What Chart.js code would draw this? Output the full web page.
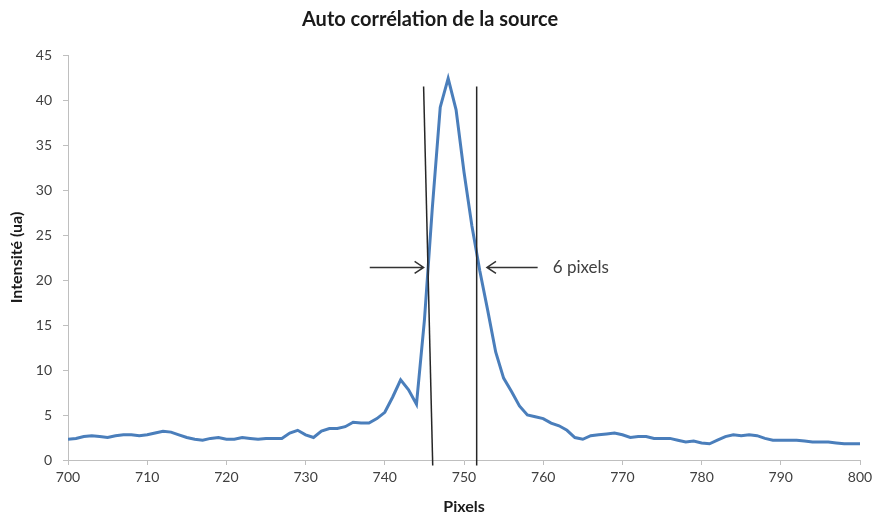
<!DOCTYPE html>
<html>
<head>
<meta charset="utf-8">
<script src="https://cdn.jsdelivr.net/npm/chart.js@4.4.0/dist/chart.umd.min.js"></script>
<style>
  html, body { margin: 0; padding: 0; background: #fff; }
  #wrap { width: 874px; height: 516px; }
</style>
</head>
<body>
<div id="wrap"><canvas id="chart" width="874" height="516"></canvas></div>
<script>
// pixel positions along the detector
const pixels = [
  700, 701, 702, 703, 704, 705, 706, 707, 708, 709,
  710, 711, 712, 713, 714, 715, 716, 717, 718, 719,
  720, 721, 722, 723, 724, 725, 726, 727, 728, 729,
  730, 731, 732, 733, 734, 735, 736, 737, 738, 739,
  740, 741, 742, 743, 744, 745, 746, 747, 748, 749,
  750, 751, 752, 753, 754, 755, 756, 757, 758, 759,
  760, 761, 762, 763, 764, 765, 766, 767, 768, 769,
  770, 771, 772, 773, 774, 775, 776, 777, 778, 779,
  780, 781, 782, 783, 784, 785, 786, 787, 788, 789,
  790, 791, 792, 793, 794, 795, 796, 797, 798, 799,
  800
];

// intensité (ua)
const intensity = [
  2.3, 2.4, 2.6, 2.7, 2.6, 2.5, 2.7, 2.8, 2.8, 2.7,
  2.8, 3.0, 3.2, 3.1, 2.8, 2.5, 2.3, 2.2, 2.4, 2.5,
  2.3, 2.3, 2.5, 2.4, 2.3, 2.4, 2.4, 2.4, 3.0, 3.3,
  2.8, 2.5, 3.2, 3.5, 3.5, 3.7, 4.2, 4.1, 4.1, 4.6,
  5.3, 7.0, 8.9, 7.8, 6.2, 15.5, 28.0, 39.2, 42.4, 38.9,
  32.0, 26.0, 21.0, 16.6, 12.0, 9.1, 7.6, 6.0, 5.0, 4.8,
  4.6, 4.1, 3.8, 3.3, 2.5, 2.3, 2.7, 2.8, 2.9, 3.0,
  2.8, 2.5, 2.6, 2.6, 2.4, 2.4, 2.4, 2.2, 2.0, 2.1,
  1.9, 1.8, 2.2, 2.6, 2.8, 2.7, 2.8, 2.7, 2.4, 2.2,
  2.2, 2.2, 2.2, 2.1, 2.0, 2.0, 2.0, 1.9, 1.8, 1.8,
  1.8
];

// traits verticaux de la largeur à mi-hauteur (unités du graphe)
const leftMarkX = [744.9, 746.05];
const rightMarkX = [751.6, 751.6];
const markY = [41.5, -0.6];

// flèches et étiquette
const arrowInX = [738.1, 744.9];
const arrowOutX = [759.3, 752.9];
const arrowY = 21.4;
const widthLabel = '6 pixels';
const widthLabelX = 761.2;

const FONT = 'Lato, "Liberation Sans", sans-serif';

const toPoints = (xs, ys) => xs.map((x, i) => ({ x, y: ys[i] }));

// dessine les flèches et le texte "6 pixels"
const arrowPlugin = {
  id: 'fwhmArrows',
  afterDatasetsDraw(chart) {
    const { ctx, scales: { x, y } } = chart;
    const yPx = y.getPixelForValue(arrowY);
    const drawArrow = (xs) => {
      const x0 = x.getPixelForValue(xs[0]);
      const x1 = x.getPixelForValue(xs[1]);
      const dir = Math.sign(x1 - x0);
      ctx.beginPath();
      ctx.moveTo(x0, yPx);
      ctx.lineTo(x1, yPx);
      ctx.moveTo(x1 - dir * 9, yPx - 6);
      ctx.lineTo(x1, yPx);
      ctx.lineTo(x1 - dir * 9, yPx + 6);
      ctx.stroke();
    };
    ctx.save();
    ctx.strokeStyle = '#333';
    ctx.lineWidth = 1.5;
    drawArrow(arrowInX);
    drawArrow(arrowOutX);
    ctx.fillStyle = '#404040';
    ctx.font = '17px ' + FONT;
    ctx.textAlign = 'left';
    ctx.textBaseline = 'middle';
    ctx.fillText(widthLabel, x.getPixelForValue(widthLabelX), yPx);
    ctx.restore();
  }
};

new Chart(document.getElementById('chart'), {
  type: 'line',
  data: {
    datasets: [
      {
        data: toPoints(leftMarkX, markY),
        borderColor: '#262626',
        borderWidth: 1.5,
        pointRadius: 0,
        clip: false,
      },
      {
        data: toPoints(rightMarkX, markY),
        borderColor: '#262626',
        borderWidth: 1.5,
        pointRadius: 0,
        clip: false,
      },
      {
        label: 'Intensité',
        data: toPoints(pixels, intensity),
        borderColor: '#4a7ebb',
        borderWidth: 3,
        pointRadius: 0,
        tension: 0,
      },
    ],
  },
  options: {
    responsive: false,
    animation: false,
    layout: { padding: { left: 0, right: 14, top: 0, bottom: 0 } },
    plugins: {
      legend: { display: false },
      tooltip: { enabled: false },
      title: {
        display: true,
        text: 'Auto corrélation de la source',
        color: '#1a1a1a',
        font: { family: FONT, size: 20, weight: 'bold' },
        padding: { top: 8, bottom: 23 },
      },
    },
    scales: {
      x: {
        type: 'linear',
        min: 700,
        max: 800,
        ticks: { stepSize: 10, color: '#404040', font: { family: FONT, size: 14 }, padding: 4, maxRotation: 0 },
        grid: { drawOnChartArea: false, tickLength: 5, color: '#bfbfbf' },
        border: { color: '#bfbfbf' },
        title: {
          display: true,
          text: 'Pixels',
          color: '#1a1a1a',
          font: { family: FONT, size: 16, weight: 'bold' },
          padding: { top: 0, bottom: 0 },
        },
        afterFit: (s) => { s.height = 56; s.paddingLeft = 0; s.paddingRight = 0; },
      },
      y: {
        min: 0,
        max: 45,
        ticks: { stepSize: 5, color: '#404040', font: { family: FONT, size: 14 }, padding: 11 },
        grid: { drawOnChartArea: false, tickLength: 5, color: '#bfbfbf' },
        border: { color: '#bfbfbf' },
        title: {
          display: true,
          text: 'Intensité (ua)',
          color: '#1a1a1a',
          font: { family: FONT, size: 16, weight: 'bold' },
          padding: { top: 7, bottom: 0 },
        },
        afterFit: (s) => { s.width = 68; },
      },
    },
  },
  plugins: [arrowPlugin],
});
</script>
</body>
</html>
